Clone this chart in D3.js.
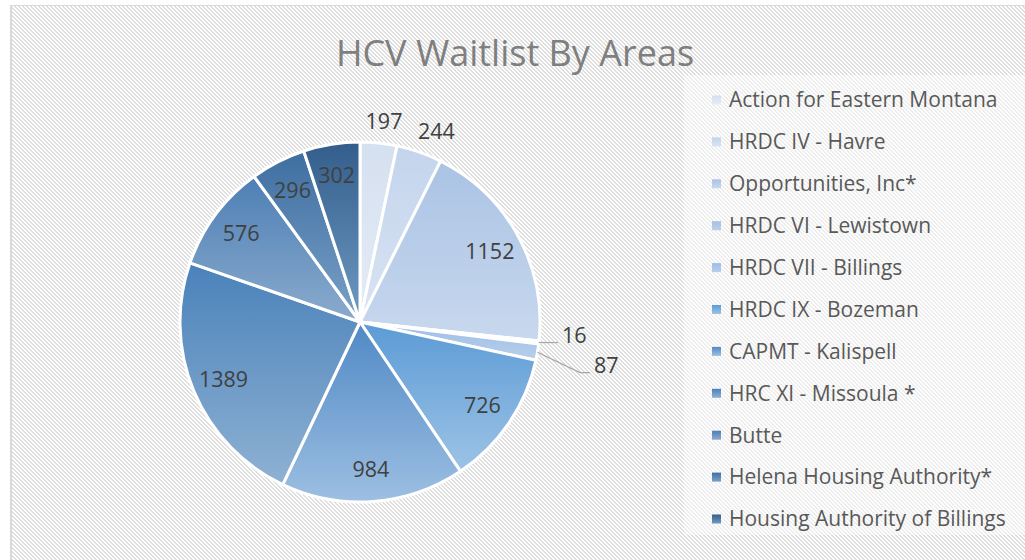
<!DOCTYPE html>
<html>
<head>
<meta charset="utf-8">
<script src="https://cdn.jsdelivr.net/npm/d3@7"></script>
<style>
  body { margin: 0; background: #fff; }
  svg { display: block; }
</style>
</head>
<body>
<div id="viz"></div>
<script>
// chart data
const chartTitle = "HCV Waitlist By Areas";
const areas = [
  "Action for Eastern Montana",
  "HRDC IV - Havre",
  "Opportunities, Inc*",
  "HRDC VI - Lewistown",
  "HRDC VII - Billings",
  "HRDC IX - Bozeman",
  "CAPMT - Kalispell",
  "HRC XI - Missoula *",
  "Butte",
  "Helena Housing Authority*",
  "Housing Authority of Billings"
];
const waitlist = [197, 244, 1152, 16, 87, 726, 984, 1389, 576, 296, 302];
const topColors = ["#d5e0f0", "#c3d4ec", "#aac3e4", "#a5c0e3", "#9dbde5", "#5b9bd5",
                   "#5089c5", "#4a82ba", "#4d7fb5", "#3e6ea1", "#335e8c"];
const bottomColors = ["#e5ecf6", "#d9e4f3", "#c8d8ee", "#bcd0eb", "#b7cfeb", "#9dc3e6",
                      "#9dbfe2", "#8fb1d3", "#8babcd", "#7aa1c7", "#6f9ac2"];

const width = 1025, height = 560;
const cx = 360, cy = 322, radius = 180;

const svg = d3.select("#viz")
  .append("svg")
    .attr("width", width)
    .attr("height", height);

const defs = svg.append("defs");

// diagonal stripe background
const pat = defs.append("pattern")
    .attr("id", "stripes")
    .attr("patternUnits", "userSpaceOnUse")
    .attr("width", 4)
    .attr("height", 4);
pat.append("rect").attr("width", 4).attr("height", 4).attr("fill", "#ffffff");
pat.selectAll("rect.px")
  .data(d3.range(4))
  .join("rect")
    .attr("class", "px")
    .attr("x", d => d)
    .attr("y", d => d)
    .attr("width", 2)
    .attr("height", 1)
    .attr("fill", "#dedede");
pat.append("rect").attr("x", 0).attr("y", 3).attr("width", 1).attr("height", 1).attr("fill", "#dedede");

// one vertical gradient per slice
waitlist.forEach(function(v, i) {
  const g = defs.append("linearGradient")
      .attr("id", "grad" + i)
      .attr("x1", 0).attr("y1", 0).attr("x2", 0).attr("y2", 1);
  g.append("stop").attr("offset", "0%").attr("stop-color", topColors[i]);
  g.append("stop").attr("offset", "100%").attr("stop-color", bottomColors[i]);
});

svg.append("rect")
    .attr("x", 11)
    .attr("y", 5.5)
    .attr("width", 1040)
    .attr("height", 600)
    .attr("fill", "url(#stripes)")
    .attr("stroke", "#d9d9d9")
    .attr("stroke-width", 1.5)
    .attr("shape-rendering", "crispEdges");

// title
svg.append("text")
    .attr("x", 515)
    .attr("y", 66)
    .attr("text-anchor", "middle")
    .attr("font-family", "Open Sans")
    .attr("font-size", 36)
    .attr("fill", "#7f7f7f")
    .text(chartTitle);

// pie
const pie = d3.pie().sort(null).value(d => d);
const arcs = pie(waitlist);
const arc = d3.arc().innerRadius(0).outerRadius(radius);

const g = svg.append("g").attr("transform", `translate(${cx},${cy})`);

g.selectAll("path.slice")
  .data(arcs)
  .join("path")
    .attr("class", "slice")
    .attr("d", arc)
    .attr("fill", (d, i) => `url(#grad${i})`)
    .attr("stroke", "#ffffff")
    .attr("stroke-width", 3)
    .attr("stroke-linejoin", "round");

// data labels
const total = d3.sum(waitlist);
const inner = d3.arc().innerRadius(148).outerRadius(148);
const outer = d3.arc().innerRadius(radius + 22).outerRadius(radius + 22);
const labelFont = {family: "Open Sans", size: 21.5, color: "#404040"};

let leadX = radius + 18, leadY = null;
arcs.forEach(function(d, i) {
  const frac = d.value / total;
  const mid = (d.startAngle + d.endAngle) / 2;
  let x, y, anchor = "middle";
  if (frac > 0.045) {
    [x, y] = inner.centroid(d);
  } else if (mid < Math.PI / 4) {
    [x, y] = outer.centroid(d);
    x += 30 * Math.sin(mid);
  } else {
    // small slices on the right get leader lines
    const ex = radius * Math.sin(mid), ey = -radius * Math.cos(mid);
    if (leadY === null) { leadY = ey; } else { leadY += 30; leadX += 32; }
    g.append("polyline")
        .attr("points", [[ex, ey], [leadX - 10, leadY], [leadX, leadY]].map(p => p.join(",")).join(" "))
        .attr("fill", "none")
        .attr("stroke", "#a6a6a6")
        .attr("stroke-width", 1.2);
    x = leadX + 4; y = leadY - 7; anchor = "start";
  }
  g.append("text")
      .attr("x", x)
      .attr("y", y)
      .attr("dy", "0.35em")
      .attr("text-anchor", anchor)
      .attr("font-family", labelFont.family)
      .attr("font-size", labelFont.size)
      .attr("fill", labelFont.color)
      .text(d.value);
});

// legend
svg.append("rect")
    .attr("x", 684)
    .attr("y", 75)
    .attr("width", 345)
    .attr("height", 460)
    .attr("fill", "#ffffff")
    .attr("fill-opacity", 0.45);

const legend = svg.append("g").attr("transform", "translate(712,100)");
const rows = legend.selectAll("g")
  .data(areas)
  .join("g")
    .attr("transform", (d, i) => `translate(0,${i * 41.9})`);
rows.append("rect")
    .attr("x", 0)
    .attr("y", -4.5)
    .attr("width", 9)
    .attr("height", 9)
    .attr("fill", (d, i) => `url(#grad${i})`);
rows.append("text")
    .attr("x", 17)
    .attr("y", 0)
    .attr("dy", "0.35em")
    .attr("font-family", "Open Sans")
    .attr("font-size", 21)
    .attr("fill", "#595959")
    .text(d => d);
</script>
</body>
</html>
